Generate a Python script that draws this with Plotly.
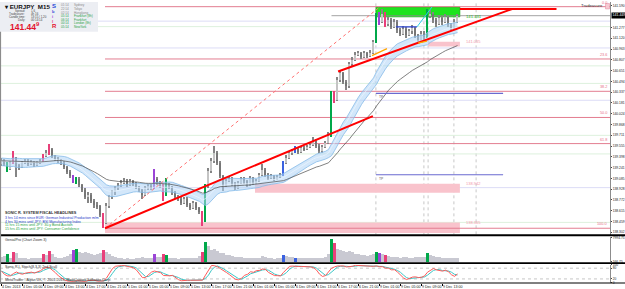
import numpy as np
import pandas as pd
import plotly.graph_objects as go

# ---------------- data ----------------
symbol = "EURJPY"
timeframe = "M15"
bid_price = 141.449

open_ = [
139.30,139.34,139.30,139.22,139.31,139.38,139.27,139.25,139.31,139.34,
139.30,139.32,139.28,139.31,139.34,139.41,139.45,139.51,139.41,139.37,
139.34,139.31,139.25,139.18,139.12,139.05,139.08,138.99,138.91,138.82,
138.85,138.76,138.70,138.68,138.55,138.44,138.69,138.81,138.88,138.94,
138.98,139.02,139.05,138.99,139.04,139.01,138.96,138.91,138.85,138.94,
138.98,138.95,139.08,139.02,138.98,138.85,138.99,138.96,138.88,138.82,
138.79,138.73,138.79,138.70,138.66,138.72,138.65,138.59,138.47,138.98,
139.19,139.34,139.45,139.31,139.12,138.98,139.05,139.08,139.01,138.95,
139.02,139.08,139.04,138.99,139.09,139.02,139.05,139.14,139.21,139.14,
139.09,139.12,139.08,139.11,139.14,139.31,139.38,139.45,139.48,139.51,
139.47,139.53,139.51,139.54,139.57,139.63,139.56,139.48,139.54,139.60,
139.70,140.32,140.23,140.52,140.61,140.49,140.42,140.75,140.81,140.88,
140.90,140.85,140.90,140.87,140.91,141.07,141.45,141.36,141.48,141.33,
141.39,141.29,141.36,141.24,141.19,141.26,141.17,141.22,141.27,141.17,
141.10,141.19,141.14,141.45,141.48,141.39,141.33,141.42,141.36,141.43,
141.32,141.27,141.36]

close_ = [
139.34,139.30,139.22,139.31,139.38,139.27,139.25,139.31,139.34,139.30,
139.32,139.28,139.31,139.34,139.41,139.45,139.51,139.41,139.37,139.34,
139.31,139.25,139.18,139.12,139.05,139.08,138.99,138.91,138.82,138.85,
138.76,138.70,138.68,138.55,138.44,138.69,138.81,138.88,138.94,138.98,
139.02,139.05,138.99,139.04,139.01,138.96,138.91,138.85,138.94,138.98,
138.95,139.08,139.02,138.98,138.85,138.99,138.96,138.88,138.82,138.79,
138.73,138.79,138.70,138.66,138.72,138.65,138.59,138.47,138.98,139.19,
139.34,139.45,139.31,139.12,138.98,139.05,139.08,139.01,138.95,139.02,
139.08,139.04,138.99,139.09,139.02,139.05,139.14,139.21,139.14,139.09,
139.12,139.08,139.11,139.14,139.31,139.38,139.45,139.48,139.51,139.47,
139.53,139.51,139.54,139.57,139.63,139.56,139.48,139.54,139.60,139.70,
140.32,140.23,140.52,140.61,140.49,140.42,140.75,140.81,140.88,140.90,
140.85,140.90,140.87,140.91,141.07,141.45,141.36,141.48,141.33,141.39,
141.29,141.36,141.24,141.19,141.26,141.17,141.22,141.27,141.17,141.10,
141.19,141.14,141.45,141.48,141.39,141.33,141.42,141.36,141.43,141.32,
141.27,141.36,141.44]

high_ = [
139.38,139.37,139.32,139.34,139.48,139.40,139.30,139.34,139.37,139.36,
139.35,139.34,139.34,139.37,139.44,139.49,139.58,139.53,139.43,139.40,
139.37,139.33,139.27,139.21,139.14,139.11,139.10,139.01,138.94,138.89,
138.87,138.79,138.74,138.70,138.58,138.72,138.84,138.92,138.97,139.02,
139.06,139.09,139.07,139.07,139.06,139.03,138.98,138.93,138.97,139.01,
139.00,139.22,139.10,139.04,139.00,139.09,139.02,138.98,138.90,138.85,
138.81,138.82,138.81,138.73,138.75,138.74,138.67,138.61,139.01,139.23,
139.38,139.56,139.48,139.33,139.14,139.08,139.11,139.10,139.03,139.05,
139.11,139.10,139.06,139.12,139.11,139.08,139.17,139.29,139.23,139.16,
139.15,139.14,139.14,139.17,139.34,139.42,139.48,139.51,139.55,139.53,
139.56,139.56,139.57,139.61,139.69,139.65,139.58,139.57,139.63,139.76,
140.36,140.35,140.56,140.66,140.63,140.52,140.78,140.85,140.92,140.94,
140.92,140.93,140.92,140.95,141.10,141.49,141.50,141.54,141.50,141.43,
141.41,141.40,141.38,141.27,141.30,141.28,141.26,141.31,141.29,141.19,
141.23,141.22,141.55,141.53,141.50,141.42,141.46,141.44,141.47,141.45,
141.35,141.40,141.47]

low_ = [
139.27,139.27,139.18,139.20,139.29,139.10,139.21,139.23,139.29,139.27,
139.28,139.25,139.26,139.29,139.32,139.39,139.43,139.38,139.33,139.31,
139.28,139.22,139.15,139.09,139.02,139.01,138.96,138.88,138.79,138.73,
138.73,138.66,138.64,138.52,138.36,138.42,138.66,138.78,138.85,138.92,
138.96,139.00,138.96,138.97,138.98,138.93,138.88,138.79,138.83,138.92,
138.92,138.93,138.99,138.95,138.76,138.83,138.93,138.85,138.79,138.76,
138.70,138.71,138.67,138.63,138.64,138.62,138.56,138.39,138.45,138.95,
139.16,139.31,139.28,139.09,138.90,138.96,139.03,138.98,138.92,138.93,
139.00,139.01,138.96,138.97,138.99,139.00,139.03,139.12,139.11,139.06,
139.07,139.05,139.06,139.09,139.12,139.29,139.36,139.43,139.46,139.44,
139.45,139.48,139.49,139.52,139.55,139.53,139.45,139.46,139.52,139.58,
139.68,140.18,140.21,140.49,140.45,140.37,140.40,140.72,140.79,140.86,
140.82,140.83,140.84,140.85,140.89,141.05,141.32,141.34,141.29,141.30,
141.25,141.27,141.20,141.15,141.17,141.13,141.15,141.19,141.13,141.04,
141.08,141.10,141.12,141.41,141.35,141.29,141.31,141.32,141.34,141.28,
141.24,141.25,141.34]

volume = [
1500,1800,2600,1400,3200,2800,1200,1100,1300,1000,
1400,1200,1100,1300,2500,2200,3600,2400,1600,1200,
1300,1500,1900,2600,3900,4200,3100,3000,3300,2800,
2500,2200,2600,3000,3900,3100,2400,1800,1500,1300,
1200,1000,1100,900,1000,1200,1300,1600,1400,1100,
1200,2400,1700,1500,2600,2200,1400,1200,1100,1000,
1100,1200,1300,1200,1100,1400,1800,3200,6400,5200,
3800,4100,3500,3000,2800,2200,2100,1800,1700,1600,
1500,1300,1400,1200,1100,1200,1300,1900,1600,1200,
1100,1000,1200,1300,2200,1900,1700,1500,1400,1300,
1200,1300,1100,1200,1400,1300,1200,1400,1600,2400,
7400,6200,4300,3800,3600,3300,3500,3100,2600,2400,
2200,2100,1900,2200,2700,3300,2800,2500,2100,1900,
1700,1600,1500,1400,1600,1500,1400,1300,1500,1700,
1600,1500,2800,2300,1800,1600,1500,1400,1300,1200,
1300,1200,1100]

green_bars = [2, 25, 55, 68, 110, 125, 142]
magenta_bars = [4, 14, 16, 34, 54, 67, 111, 128]
purple_bars = [24, 51, 126]
blue_bars = [94, 98]

time_labels = ["4 Dec 2013", "4 Dec 05:00", "4 Dec 09:00", "4 Dec 13:00", "4 Dec 17:00",
               "4 Dec 21:00", "5 Dec 01:00", "5 Dec 05:00", "5 Dec 09:00", "5 Dec 13:00",
               "5 Dec 17:00", "5 Dec 21:00", "6 Dec 01:00", "6 Dec 05:00", "6 Dec 09:00",
               "6 Dec 13:00", "6 Dec 17:00", "6 Dec 21:00", "9 Dec 01:00", "9 Dec 05:00",
               "9 Dec 09:00", "9 Dec 13:00"]
bars_per_time_label = 7

price_ticks = [141.590, 141.277, 141.120, 140.963, 140.807, 140.651, 140.494, 140.337,
               140.181, 140.024, 139.868, 139.711, 139.555, 139.398, 139.241, 139.085,
               138.928, 138.772, 138.615, 138.459, 138.302]

fib_high, fib_low = 141.58, 138.36
fib_levels = [0.0, 23.6, 38.2, 50.0, 61.8, 100.0]
fib_start_bar, fib_high_bar = 34.5, 126.2

pivot_lavender = [141.37, 140.98, 140.22, 138.95]
pivot_green = [141.29, 140.72, 140.465, 139.71, 139.44, 138.445]

# zones: (bar from, bar to, price low, price high)
pink_zones = [(142.2, 152.8, 141.00, 141.07), (84.5, 152.8, 138.877, 139.007), (34.5, 152.8, 138.29, 138.445)]
pink_zone_labels = ["141.035", "138.942", "138.365"]
green_zone = (124.8, 152.8, 141.432, 141.576)
green_zone_label = "141.431"

trend_lines = [((34.5, 138.36), (123.8, 139.99)), ((112.2, 140.638), (170.2, 141.547)),
               ((152.8, 141.547), (185.0, 141.547))]
orange_lines = [((123.5, 140.869), (128.5, 140.97)), ((138.8, 141.05), (141.8, 141.08))]
blue_segments = [((131.5, 141.287), (138.5, 141.287))]
cyan_segments = [((138.5, 141.287), (143.5, 141.576))]
target_lines = [(124.8, 167.2, 140.32, "TP"), (124.8, 167.2, 139.137, "TP")]
session_bars = [124.8, 140.8, 142.2, 150.8, 158.2]
session_names = ["Fr", "F", "Lu", "Fr", "Lo"]

# ---------------- geometry ----------------
W, H = 625, 289
MR, MB = 15, 6
PW, PH = W - MR, H - MB
X_MIN = -0.5
X_MAX = X_MIN + PW / 3.0
FONT = "Liberation Sans, Arial, sans-serif"

n = min(len(open_), len(close_), len(high_), len(low_), len(volume))
bars = list(range(n))
o = np.array(open_[:n]); c = np.array(close_[:n]); h = np.array(high_[:n]); l = np.array(low_[:n])

def yp(pix):
    return 1 - pix / PH

def xp(pix):
    return pix / PW

# colours per candle
wick_col, body_col, vol_col = [], [], []
for i in range(n):
    if i in green_bars:
        col = "#00a84a"; wc = col; vc = col
    elif i in magenta_bars:
        col = "#e8407a"; wc = col; vc = col
    elif i in purple_bars:
        col = "#9b45d6"; wc = col; vc = col
    elif i in blue_bars:
        col = "#3b62e0"; wc = col; vc = col
    else:
        col = "#c4c4c4" if c[i] >= o[i] else "#767676"
        wc = "#858585"; vc = "#c9c9d2"
    body_col.append(col); wick_col.append(wc); vol_col.append(vc)

body_base = np.minimum(o, c)
body_len = np.maximum(np.abs(c - o), 0.012)

s_close = pd.Series(c); s_high = pd.Series(h); s_low = pd.Series(l)
rib_up = s_high.ewm(span=20, adjust=False).mean()
rib_dn = s_low.ewm(span=20, adjust=False).mean()
rib_mid = s_close.ewm(span=20, adjust=False).mean()
trend_ma = s_close.ewm(span=40, adjust=False).mean()

ll = s_low.rolling(8, min_periods=1).min()
hh = s_high.rolling(8, min_periods=1).max()
raw_k = (s_close - ll) / (hh - ll).replace(0, np.nan) * 100
stoch_k = raw_k.fillna(50).rolling(3, min_periods=1).mean()
stoch_d = stoch_k.rolling(3, min_periods=1).mean()

fig = go.Figure()

# ribbon
fig.add_trace(go.Scatter(x=bars, y=rib_up, mode="lines", line=dict(color="#86bbe8", width=0.8),
                         xaxis="x", yaxis="y", hoverinfo="skip"))
fig.add_trace(go.Scatter(x=bars, y=rib_dn, mode="lines", line=dict(color="#86bbe8", width=0.8),
                         fill="tonexty", fillcolor="rgba(175,212,245,0.55)", xaxis="x", yaxis="y",
                         hoverinfo="skip"))
fig.add_trace(go.Scatter(x=bars, y=rib_mid, mode="lines", line=dict(color="rgba(235,245,255,0.9)", width=0.8),
                         xaxis="x", yaxis="y", hoverinfo="skip"))
fig.add_trace(go.Scatter(x=bars, y=trend_ma, mode="lines", line=dict(color="#4a4a4a", width=0.7),
                         xaxis="x", yaxis="y", hoverinfo="skip"))

# candles
fig.add_trace(go.Bar(x=bars, y=h - l, base=l, width=0.34, marker=dict(color=wick_col, line=dict(width=0)),
                     xaxis="x", yaxis="y", hoverinfo="skip"))
fig.add_trace(go.Bar(x=bars, y=body_len, base=body_base, width=0.66,
                     marker=dict(color=body_col, line=dict(width=0)), xaxis="x", yaxis="y", hoverinfo="skip"))

# volume
fig.add_trace(go.Bar(x=bars, y=volume[:n], width=0.72, marker=dict(color=vol_col, line=dict(width=0)),
                     xaxis="x2", yaxis="y2", hoverinfo="skip"))

# stochastic
fig.add_trace(go.Scatter(x=bars, y=stoch_d, mode="lines", line=dict(color="#3cc6c6", width=1),
                         xaxis="x3", yaxis="y3", hoverinfo="skip"))
fig.add_trace(go.Scatter(x=bars, y=stoch_k, mode="lines", line=dict(color="#ff5a5a", width=1),
                         xaxis="x3", yaxis="y3", hoverinfo="skip"))

shapes = []
ann = []

def add_text(text, x, y, size=4, color="#222222", xanchor="left", yanchor="middle",
             xref="paper", yref="paper", **kw):
    ann.append(dict(text=text, x=x, y=y, xref=xref, yref=yref, xanchor=xanchor, yanchor=yanchor,
                    showarrow=False, font=dict(size=size, color=color, family=FONT), **kw))

# faint pivot lines
for p in pivot_lavender:
    shapes.append(dict(type="line", xref="x", yref="y", x0=X_MIN, x1=X_MAX, y0=p, y1=p,
                       line=dict(color="#dcdcf6", width=1), layer="below"))
for p in pivot_green:
    shapes.append(dict(type="line", xref="x", yref="y", x0=X_MIN, x1=X_MAX, y0=p, y1=p,
                       line=dict(color="#ddf1dd", width=1), layer="below"))

# pink zones
for (b0, b1, p0, p1), lab in zip(pink_zones, pink_zone_labels):
    shapes.append(dict(type="rect", xref="x", yref="y", x0=b0, x1=b1, y0=p0, y1=p1,
                       fillcolor="#f9c3cc", line=dict(width=0), layer="below"))
    add_text(lab, b1 + 1.5, p1, size=4, color="#f39aab", xref="x", yref="y")

# green zone
gb0, gb1, gp0, gp1 = green_zone
shapes.append(dict(type="rect", xref="x", yref="y", x0=gb0, x1=gb1, y0=gp0, y1=gp1,
                   fillcolor="#1ee31e", line=dict(width=0.6, color="#10a010"), layer="below"))
add_text(green_zone_label, gb1 + 1.5, gp0, size=4.2, color="#22b022", xref="x", yref="y")

# fibonacci levels
for lvl in fib_levels:
    p = fib_high - (fib_high - fib_low) * lvl / 100.0
    shapes.append(dict(type="line", xref="x", yref="y", x0=fib_start_bar, x1=X_MAX, y0=p, y1=p,
                       line=dict(color="#e37d90", width=1), layer="below"))
    add_text(f"{lvl:.1f}", X_MAX - 0.3, p, size=3.8, color="#e8708a", xanchor="right",
             yanchor="bottom", xref="x", yref="y")

# fib diagonal
shapes.append(dict(type="line", xref="x", yref="y", x0=fib_start_bar, y0=fib_low, x1=fib_high_bar, y1=fib_high,
                   line=dict(color="#ff7070", width=1, dash="dot")))

# session verticals
for b, nm in zip(session_bars, session_names):
    shapes.append(dict(type="line", xref="x", yref="paper", x0=b, x1=b, y0=yp(234), y1=1,
                       line=dict(color="#c8c8c8", width=1, dash="dot"), layer="below"))
    add_text(nm, b + 0.4, yp(2.5), size=3.5, color="#555555")

# target lines
for b0, b1, p, lab in target_lines:
    shapes.append(dict(type="line", xref="x", yref="y", x0=b0, x1=b1, y0=p, y1=p,
                       line=dict(color="#6a6ad0", width=1.2)))
    add_text(lab, b0 + 0.5, p, size=3.3, color="#555555", xref="x", yref="y", yanchor="top")

# bid line
shapes.append(dict(type="line", xref="x", yref="y", x0=110, x1=X_MAX, y0=bid_price, y1=bid_price,
                   line=dict(color="#8a8a8a", width=0.8), layer="below"))

# trend lines
for (a, b) in trend_lines:
    shapes.append(dict(type="line", xref="x", yref="y", x0=a[0], y0=a[1], x1=b[0], y1=b[1],
                       line=dict(color="#ff0000", width=2)))
for (a, b) in orange_lines:
    shapes.append(dict(type="line", xref="x", yref="y", x0=a[0], y0=a[1], x1=b[0], y1=b[1],
                       line=dict(color="#ffa500", width=1.3)))
for (a, b) in blue_segments:
    shapes.append(dict(type="line", xref="x", yref="y", x0=a[0], y0=a[1], x1=b[0], y1=b[1],
                       line=dict(color="#2a3fd0", width=1.3)))
for (a, b) in cyan_segments:
    shapes.append(dict(type="line", xref="x", yref="y", x0=a[0], y0=a[1], x1=b[0], y1=b[1],
                       line=dict(color="#30d0e8", width=1)))

# stochastic levels
for lv in (80, 20):
    shapes.append(dict(type="line", xref="x3", yref="y3", x0=X_MIN, x1=X_MAX, y0=lv, y1=lv,
                       line=dict(color="#b8b8b8", width=0.8, dash="dot"), layer="below"))

# panel separators & borders
for pix, wdt in ((235, 2), (263, 1.6), (283, 1)):
    shapes.append(dict(type="line", xref="paper", yref="paper", x0=0, x1=W / PW, y0=yp(pix), y1=yp(pix),
                       line=dict(color="#000000", width=wdt)))
shapes.append(dict(type="line", xref="paper", yref="paper", x0=0.0008, x1=0.0008, y0=0, y1=1,
                   line=dict(color="#8c8c8c", width=1.2)))

# info box
shapes.append(dict(type="rect", xref="paper", yref="paper", x0=0, x1=xp(98), y0=yp(30), y1=1,
                   fillcolor="#eceef3", line=dict(width=0), layer="above"))
add_text(f"<b>▾ {symbol}  {timeframe}</b>", xp(2), yp(4.5), size=6.2, color="#111111")
info_rows = [("Spread:", "1.6"), ("Tradeasure:", "4h 16"), ("Candle time:", "13:15 / 1.20"), ("Daily:", "00:14:14")]
for k, (a, b) in enumerate(info_rows):
    add_text(a, xp(27), yp(8.8 + 3.1 * k), size=2.9, color="#444444", xanchor="right")
    add_text(b, xp(29), yp(8.8 + 3.1 * k), size=2.9, color="#444444")
add_text("<b>141.44<sup>9</sup></b>", xp(8), yp(25), size=8.5, color="#e3122e")
letters = [("S", "#2746d8", 6), ("b", "#2746d8", 4), ("i", "#9b45d6", 4), ("I", "#e8407a", 4), ("R", "#e3122e", 6)]
for k, (t, col, sz) in enumerate(letters):
    add_text(f"<b>{t}</b>", xp(50), yp(4.5 + 5 * k), size=sz, color=col)
sessions = [("01:14", "Sydney", "#8a8a8a"), ("22:14", "Tokyo", "#8a8a8a"), ("02:14", "Hongkong", "#8a8a8a"),
            ("05:14", "Frankfurt (8h)", "#1f9f3f"), ("06:14", "Frankfurt", "#1f9f3f"),
            ("00:14", "London (8h)", "#1f9f3f"), ("05:14", "NewYork", "#1f9f3f")]
for k, (t, nm, col) in enumerate(sessions):
    add_text(t, xp(59), yp(3.5 + 3.6 * k), size=3.1, color=col)
    add_text(nm, xp(72), yp(3.5 + 3.6 * k), size=3.1, color=col)

# headlines block
add_text("<b>SONIC R. SYSTEM FISCAL HEADLINES</b>", xp(3), yp(213), size=3.8, color="#333333")
headlines = [("3 hrs 14 mins since EUR: German Industrial Production m/m", "#2338c8"),
             ("4 hrs 30 mins until JPY: BSI Manufacturing Index", "#2338c8"),
             ("11 hrs 15 mins until JPY: 30-y Bond Auction", "#1f9f3f"),
             ("15 hrs 45 mins until JPY: Consumer Confidence", "#1f9f3f")]
for k, (t, col) in enumerate(headlines):
    add_text(t, xp(3), yp(217.5 + 3.6 * k), size=3.5, color=col)

add_text("Tradeasure", xp(605), yp(4), size=4.2, color="#333333", xanchor="right")
shapes.append(dict(type="rect", xref="paper", yref="paper", x0=xp(605.5), x1=xp(609.5), y0=yp(7), y1=yp(1.5),
                   fillcolor="#f7c9d2", line=dict(color="#e08a9c", width=0.5)))

# current price box
add_text("141.449", 1.002, bid_price, size=3.6, color="#ffffff", xanchor="left", yref="y",
         bgcolor="#000000", borderpad=0.4)

add_text("GenialPro (Chart Zoom 3)", xp(3), yp(240), size=3.6, color="#333333")
add_text("Sonic R.I. Stoch(8,3,3) 2nd Scull", xp(3), yp(266.5), size=3.6, color="#333333")
add_text("MetaTrader - Alpari UK, © 2001-2013, MetaQuotes Software Corp.", xp(3), yp(280), size=3.6,
         color="#333333")

tick_pos = [i * bars_per_time_label for i in range(len(time_labels))]

axis_common = dict(range=[X_MIN, X_MAX], showgrid=False, zeroline=False, fixedrange=True)
yfont = dict(size=3.3, color="#222222", family=FONT)

fig.update_layout(
    width=W, height=H, autosize=False,
    margin=dict(l=0, r=MR, t=0, b=MB, pad=0),
    paper_bgcolor="#ffffff", plot_bgcolor="#ffffff",
    showlegend=False, barmode="overlay", bargap=0, hovermode=False,
    font=dict(family=FONT, size=4),
    xaxis=dict(domain=[0, 1], anchor="y", showticklabels=False, ticks="", **axis_common),
    xaxis2=dict(domain=[0, 1], anchor="y2", showticklabels=False, ticks="", **axis_common),
    xaxis3=dict(domain=[0, 1], anchor="y3", tickvals=tick_pos, ticktext=time_labels, tickangle=0,
                ticks="outside", ticklen=2, tickcolor="#000000",
                tickfont=dict(size=3.6, color="#222222", family=FONT),
                ticklabelposition="outside right", **axis_common),
    yaxis=dict(domain=[yp(234.5), 1], range=[138.264, 141.648], side="right", anchor="x",
               tickvals=price_ticks, ticktext=[f"{v:.3f}" for v in price_ticks], tickfont=yfont,
               ticks="outside", ticklen=1, tickcolor="#444444", showgrid=False, zeroline=False,
               showline=True, linecolor="#8c8c8c", linewidth=1, fixedrange=True),
    yaxis2=dict(domain=[yp(262), yp(237)], range=[0, 8100], side="right", anchor="x2",
                tickvals=[7994.75, 166.75], ticktext=["7994.75", "166.75"], tickfont=yfont,
                ticks="outside", ticklen=1, tickcolor="#444444", showgrid=False, zeroline=False,
                showline=True, linecolor="#8c8c8c", linewidth=1, fixedrange=True),
    yaxis3=dict(domain=[yp(282.5), yp(264.5)], range=[0, 100], side="right", anchor="x3",
                tickvals=[100, 80, 20, 0], ticktext=["100", "80", "20", "0"],
                tickfont=dict(size=3.2, color="#222222", family=FONT),
                ticks="outside", ticklen=1, tickcolor="#444444", showgrid=False, zeroline=False,
                showline=True, linecolor="#8c8c8c", linewidth=1, fixedrange=True),
    shapes=shapes, annotations=ann,
)

fig.write_html("out.html")
